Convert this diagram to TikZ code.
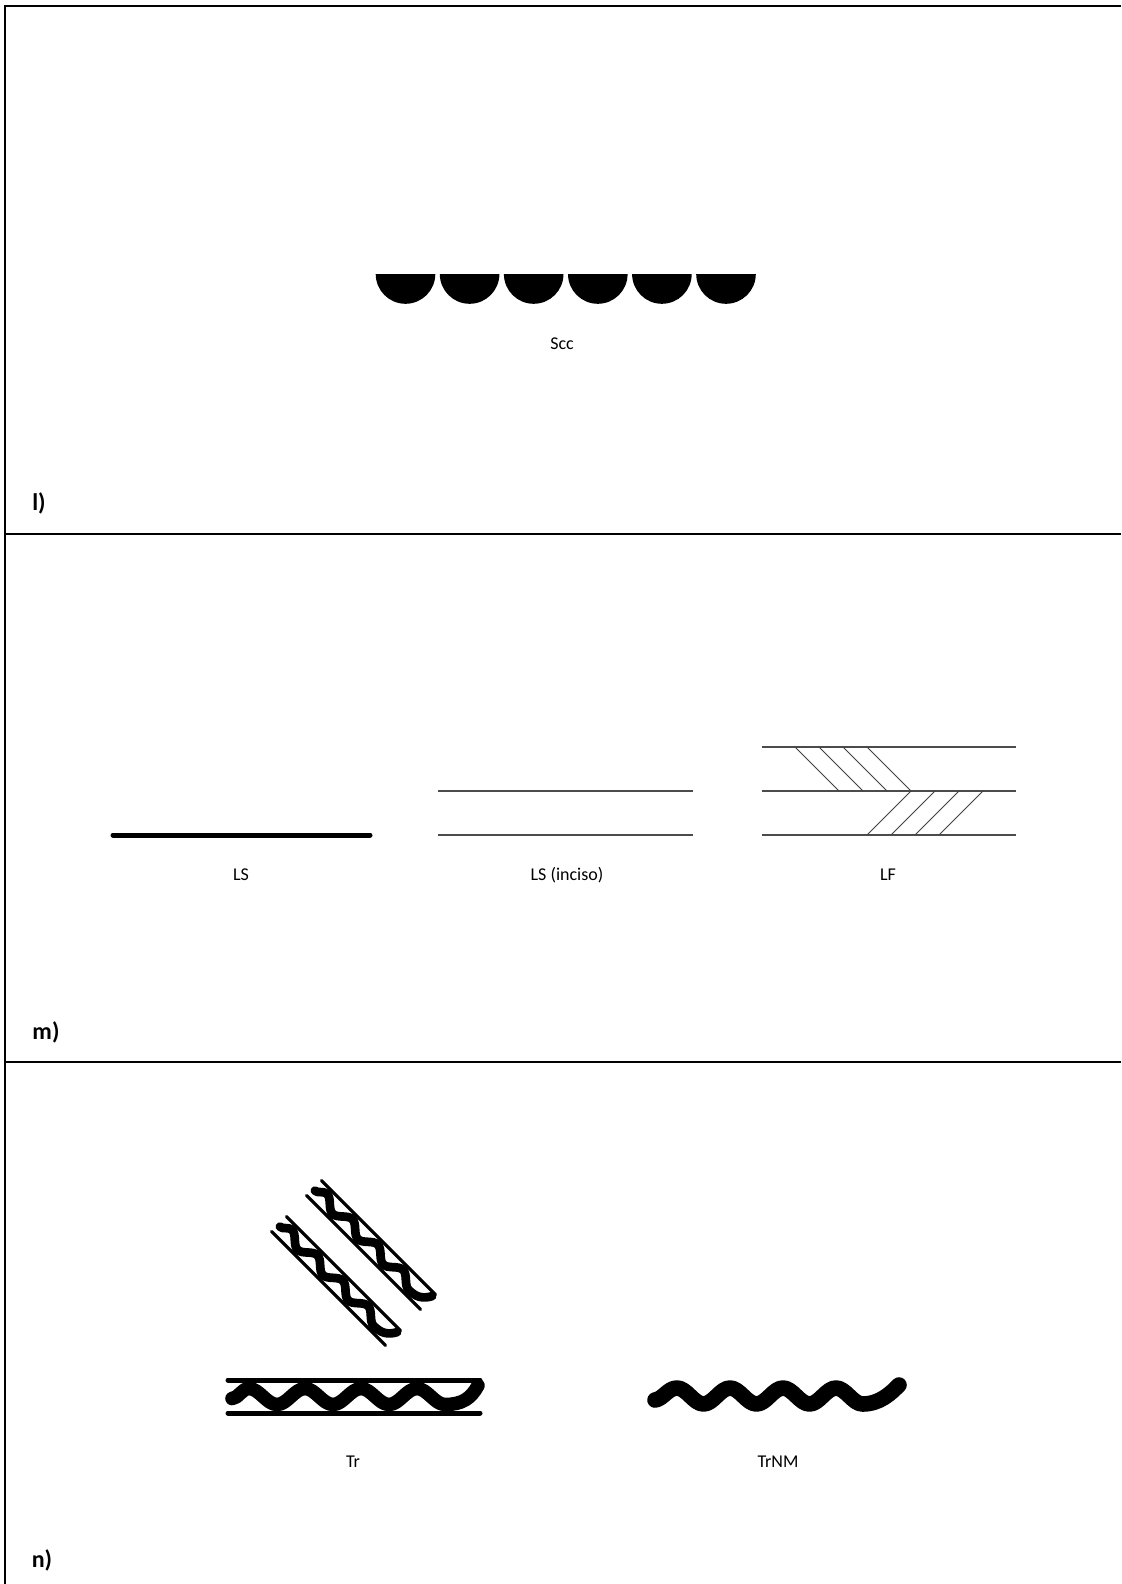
\documentclass[tikz,border=0pt]{standalone}
\usepackage{fontspec}
\setmainfont{Carlito}
\usepackage{tikz}
\usetikzlibrary{positioning}

% band of the Tr sign, drawn round (0,0); #1 scales the strokes
\newcommand{\trband}[1]{%
  \draw[line width=#1*2.5pt,line cap=round] (-126,-16.5) -- (126,-16.5) (-126,16.5) -- (126,16.5);
  \draw[line width=#1*6.8pt,line cap=round,line join=round]
    (-122,2) .. controls (-116,2) and (-112,-8) .. (-105,-8)
    \foreach \k in {1,2,3} { cos ++(14,8) sin ++(14,8) cos ++(14,-8) sin ++(14,-8) }
    cos ++(14,8) sin ++(14,8)
    .. controls (108,8) and (117,2) .. (124,-11);
}

\begin{document}
\begin{tikzpicture}[
  x=0.5pt,y=-0.5pt,
  frame/.style={line width=1pt},
  lbl/.style={font=\fontsize{9}{11}\selectfont},
  panel/.style={font=\fontsize{12}{14}\selectfont\bfseries},
  thinline/.style={line width=0.7pt,draw=black!70},
  hatch/.style={line width=0.5pt,draw=black!75}
]
\useasboundingbox (0,0) rectangle (1121,1584);
\fill[white] (0,0) rectangle (1121,1584);
% frame and panel rules
\draw[frame] (5,1584) -- (5,6) -- (1121,6);
\draw[frame] (5,534) -- (1121,534);
\draw[frame] (5,1062) -- (1121,1062);

% l) scallops
\foreach \k in {0,...,5}
  \fill ({375.7+64.1*\k},274) arc[start angle=180,end angle=0,radius=29.8] -- cycle;
\node[lbl] (scc) at (562,344) {Scc};
\node[panel] (pl) at (39,503) {l)};

% m) lines
\draw[line width=2.5pt,line cap=round] (113,835) -- (370,835);
\node[lbl] (ls) at (241,875) {LS};
\draw[thinline] (438,791) -- (693,791);
\draw[thinline] (438,835) -- (693,835);
\node[lbl] (lsi) at (567,875) {LS (inciso)};
\foreach \y in {747,791,835} \draw[thinline] (762,\y) -- (1016,\y);
\foreach \k in {0,...,3} {
  \draw[hatch] ({795+24*\k},747) -- ({839+24*\k},791);
  \draw[hatch] ({911+24*\k},791) -- ({867+24*\k},835);
}
\node[lbl] (lf) at (888,875) {LF};
\node[panel] (pm) at (46,1032) {m)};

% n) Tr and TrNM
\begin{scope}[shift={(371,1245)},rotate=-45,scale=0.64]
  \trband{0.64}
\end{scope}
\begin{scope}[shift={(336,1281)},rotate=-45,scale=0.64]
  \trband{0.64}
\end{scope}
\begin{scope}[shift={(354,1396.5)}]
  \trband{1}
\end{scope}
\node[lbl] (tr) at (353,1462) {Tr};
\draw[line width=7.8pt,line cap=round,line join=round]
  (655,1400) .. controls (663,1399) and (668,1388) .. (677,1388)
  \foreach \k in {1,2,3} { cos ++(13.25,8) sin ++(13.25,8) cos ++(13.25,-8) sin ++(13.25,-8) }
  cos ++(13.25,8) sin ++(13.25,8)
  .. controls (880,1404) and (891,1393) .. (899,1385);
\node[lbl] (trnm) at (778,1462) {TrNM};
\node[panel] (pn) at (42,1560) {n)};
\end{tikzpicture}
\end{document}
